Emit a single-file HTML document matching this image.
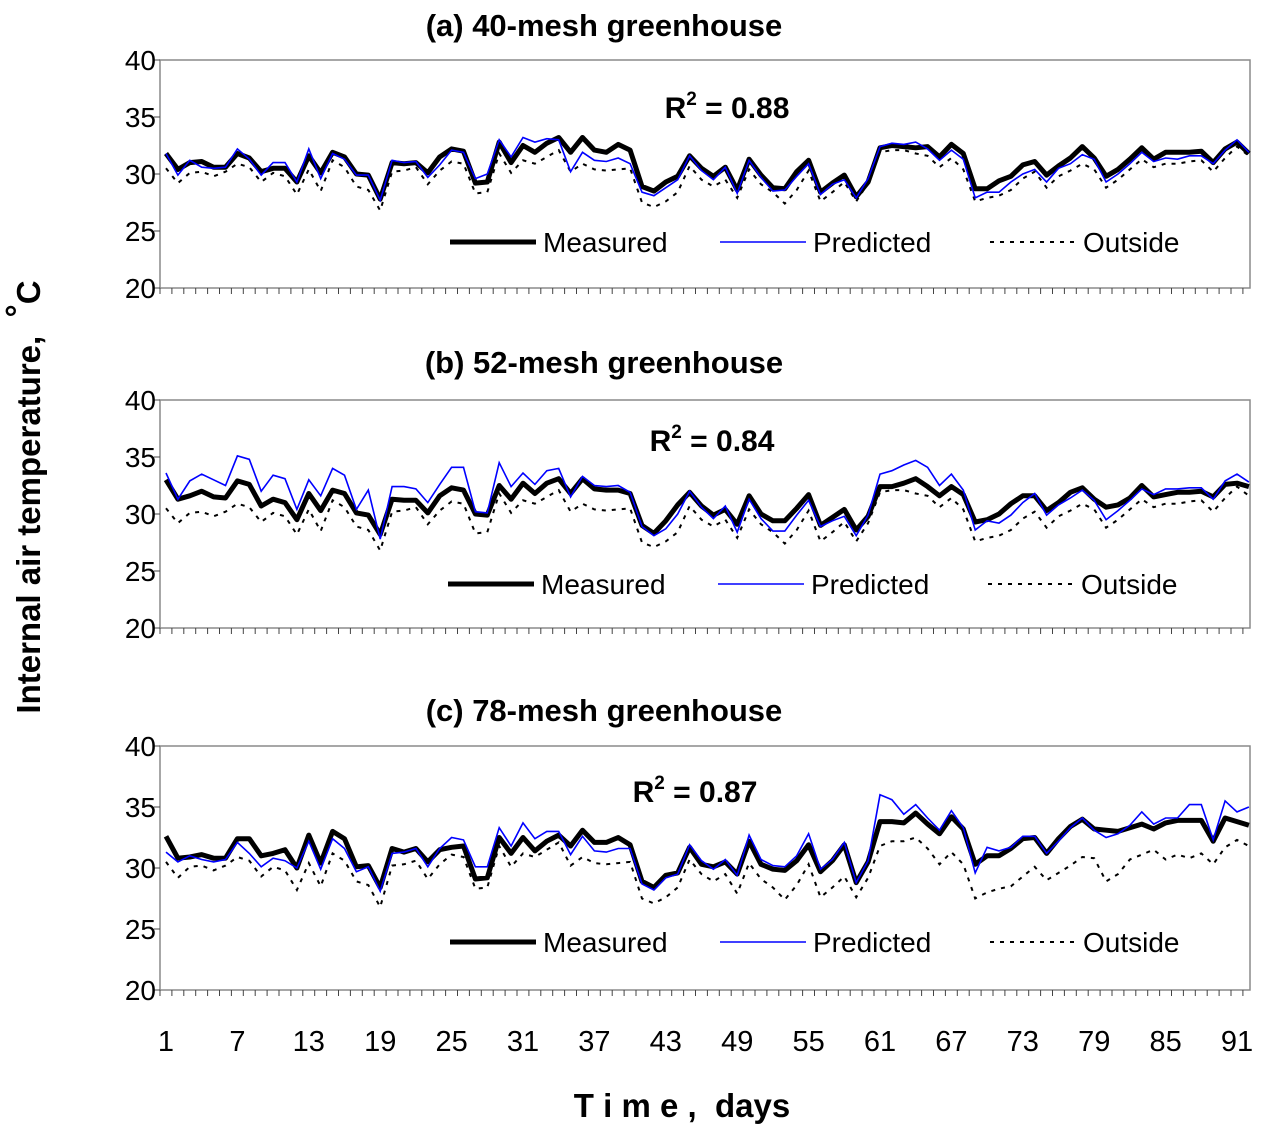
<!DOCTYPE html>
<html><head><meta charset="utf-8"><style>
body{margin:0;background:#fff;}
svg text{font-family:"Liberation Sans",Arial,sans-serif;}
</style></head><body>
<svg id="chart" width="1263" height="1137" viewBox="0 0 1263 1137" xmlns="http://www.w3.org/2000/svg"></svg>
<script>
const days = Array.from({length:92},(_,i)=>i+1);
const xTickLabels = [1,7,13,19,25,31,37,43,49,55,61,67,73,79,85,91];
const yTickLabels = [20,25,30,35,40];
const titles = ["(a) 40-mesh greenhouse","(b) 52-mesh greenhouse","(c) 78-mesh greenhouse"];
const r2Labels = ["0.88","0.84","0.87"];
const measuredA = [31.8,30.4,31,31.1,30.6,30.6,31.8,31.4,30.2,30.5,30.5,29.3,31.6,30.1,31.9,31.5,30,29.9,27.8,31,30.9,31,30.1,31.5,32.2,32,29.2,29.3,32.8,31,32.5,31.9,32.7,33.2,31.9,33.2,32.1,31.9,32.6,32.1,28.9,28.5,29.3,29.8,31.6,30.5,29.8,30.6,28.6,31.3,29.9,28.8,28.7,30.2,31.2,28.4,29.2,29.9,28,29.3,32.3,32.5,32.4,32.3,32.4,31.5,32.6,31.8,28.7,28.7,29.4,29.8,30.8,31.1,29.9,30.7,31.4,32.4,31.4,29.8,30.4,31.3,32.3,31.3,31.9,31.9,31.9,32,31,32.2,32.8,31.8];
const predictedA = [31.8,29.9,31.2,30.6,30.5,30.6,32.2,31.3,29.9,31,31,29.3,32.2,29.6,31.8,31.3,29.9,29.9,27.7,31.2,31,31.1,29.7,30.8,32.1,31.9,29.6,30,33,31.5,33.2,32.8,33.1,33,30.2,31.9,31.2,31.1,31.4,30.9,28.4,28.1,28.8,29.5,31.6,30.3,29.5,30.6,28.3,31.2,29.7,28.5,28.6,29.8,30.9,28.2,29.1,29.5,27.9,29.6,32.4,32.7,32.6,32.8,32.2,31.2,32.1,31.3,27.9,28.4,28.4,29.3,30,30.4,29.3,30.5,30.9,31.7,31.3,29.3,30,30.9,31.9,31.1,31.4,31.3,31.6,31.6,30.9,32.1,33,31.9];
const outsideA = [30.5,29.2,30.1,30.2,29.8,30.2,30.9,30.6,29.3,30.1,29.8,28.2,30.4,28.5,31.2,30.6,28.9,28.6,26.8,30.2,30.3,30.6,29.1,30.3,31.1,30.9,28.3,28.4,31.8,30.1,31.2,30.9,31.5,32.1,30.2,30.9,30.4,30.3,30.4,30.5,27.5,27.1,27.6,28.4,30.7,29.5,28.9,29.5,27.9,30.4,29.1,28.4,27.4,28.6,30.3,27.6,28.4,29.3,27.6,29.2,31.9,32.1,32.1,31.8,31.6,30.6,31.4,30.4,27.6,27.9,28.1,28.6,29.6,30.2,28.8,29.8,30.3,30.9,30.4,28.8,29.5,30.4,31.3,30.6,30.9,30.9,31.1,31.2,30.2,31.4,32.4,31.6];
const measuredB = [33,31.3,31.6,32,31.5,31.4,32.9,32.6,30.7,31.3,31,29.5,31.8,30.3,32.1,31.8,30.1,29.9,28.2,31.3,31.2,31.2,30.1,31.6,32.3,32.1,30,29.9,32.5,31.3,32.7,31.8,32.7,33.1,31.8,33.1,32.2,32.1,32.1,31.8,29,28.3,29.4,30.8,31.9,30.7,29.9,30.4,29.1,31.6,30,29.4,29.4,30.5,31.7,29,29.7,30.4,28.6,29.8,32.4,32.4,32.7,33.1,32.4,31.6,32.4,31.7,29.3,29.5,30,30.9,31.6,31.6,30.3,31,31.9,32.3,31.3,30.6,30.8,31.4,32.5,31.5,31.7,31.9,31.9,32,31.5,32.6,32.7,32.4];
const predictedB = [33.6,31.3,32.9,33.5,33,32.5,35.1,34.8,32,33.4,33.1,30.4,33,31.6,34,33.4,30.4,32.1,27.8,32.4,32.4,32.2,31,32.6,34.1,34.1,30.2,30.1,34.5,32.4,33.6,32.6,33.8,34,31.5,33.3,32.5,32.4,32.5,31.9,28.9,28.1,28.7,30,32,30.6,29.6,30.7,28.4,31.3,29.6,28.5,28.5,29.9,31.2,28.9,29.4,29.8,28.1,29.9,33.5,33.8,34.3,34.7,34.1,32.5,33.5,32.1,28.6,29.4,29.2,29.9,31,31.8,29.9,30.8,31.4,32.1,31.2,29.5,30.3,31.2,32.2,31.7,32.2,32.2,32.3,32.3,31.3,32.9,33.5,32.8];
const outsideB = [30.5,29.2,30.1,30.2,29.8,30.2,30.9,30.6,29.3,30.1,29.8,28.2,30.4,28.5,31.2,30.6,28.9,28.6,26.8,30.2,30.3,30.6,29.1,30.3,31.1,30.9,28.3,28.4,31.8,30.1,31.2,30.9,31.5,32.1,30.2,30.9,30.4,30.3,30.4,30.5,27.5,27.1,27.6,28.4,30.7,29.5,28.9,29.5,27.9,30.4,29.1,28.4,27.4,28.6,30.3,27.6,28.4,29.3,27.6,29.2,31.9,32.1,32.1,31.8,31.6,30.6,31.4,30.4,27.6,27.9,28.1,28.6,29.6,30.2,28.8,29.8,30.3,30.9,30.4,28.8,29.5,30.4,31.3,30.6,30.9,30.9,31.1,31.2,30.2,31.4,32.4,31.6];
const measuredC = [32.6,30.8,30.9,31.1,30.8,30.8,32.4,32.4,31,31.2,31.5,30,32.7,30.4,33,32.4,30.1,30.2,28.4,31.6,31.3,31.6,30.5,31.5,31.7,31.8,29.1,29.2,32.5,31.2,32.5,31.4,32.2,32.7,31.8,33.1,32.1,32.1,32.5,31.9,28.9,28.4,29.4,29.6,31.7,30.3,30.1,30.5,29.5,32.2,30.3,29.9,29.8,30.6,31.9,29.7,30.6,31.9,28.8,30.5,33.8,33.8,33.7,34.5,33.6,32.8,34.2,33.2,30.3,31,31,31.6,32.4,32.5,31.2,32.4,33.4,34,33.2,33.1,33,33.3,33.6,33.2,33.7,33.9,33.9,33.9,32.2,34.1,33.8,33.5];
const predictedC = [31.3,30.5,31,30.7,30.5,30.7,32.1,31.2,30.1,30.8,30.6,30,32.2,29.9,32.4,31.6,29.7,30.1,28.1,31.2,31.3,31.6,30.1,31.6,32.5,32.3,30.1,30.1,33.3,31.8,33.7,32.4,33,33,31.1,32.6,31.4,31.3,31.6,31.6,28.7,28.2,29.2,29.5,31.9,30.6,29.9,30.7,29.4,32.7,30.7,30.2,30.1,31,32.8,29.9,30.7,32.1,28.8,30.6,36,35.6,34.4,35.2,34.1,33.1,34.7,33.3,29.6,31.7,31.4,31.7,32.6,32.6,31.2,32.2,33.3,34.1,33.1,32.5,32.8,33.5,34.6,33.6,34.1,34.1,35.2,35.2,32.3,35.5,34.6,35];
const outsideC = [30.5,29.2,30.1,30.2,29.8,30.2,30.9,30.6,29.3,30.1,29.8,28.2,30.4,28.5,31.2,30.6,28.9,28.6,26.8,30.2,30.3,30.6,29.1,30.3,31.1,30.9,28.3,28.4,31.8,30.1,31.2,30.9,31.5,32.1,30.2,30.9,30.4,30.3,30.4,30.5,27.5,27.1,27.6,28.4,30.7,29.5,28.9,29.5,27.9,30.4,29.1,28.4,27.4,28.6,30.3,27.6,28.4,29.3,27.6,29.2,31.8,32.2,32.2,32.5,31.6,30.3,31.3,30.3,27.5,28,28.3,28.5,29.3,30.1,29,29.6,30.2,30.9,30.8,28.9,29.5,30.7,31.1,31.5,30.7,31.1,30.8,31.2,30.3,31.7,32.3,31.8];

const NS="http://www.w3.org/2000/svg";
const svg=document.getElementById('chart');
function mk(tag,attrs,parent){const e=document.createElementNS(NS,tag);for(const k in attrs)e.setAttribute(k,attrs[k]);(parent||svg).appendChild(e);return e;}
const X0=160,X1=1250;
function xs(d){return 166+(d-1)*(1237-166)/90;}
const panels=[
 {top:60,bot:288,m:measuredA,p:predictedA,o:outsideA,ty:25,r2x:727,r2y:107,ly:242,lx:0},
 {top:400,bot:628,m:measuredB,p:predictedB,o:outsideB,ty:362,r2x:712,r2y:440,ly:584,lx:-2},
 {top:746,bot:990,m:measuredC,p:predictedC,o:outsideC,ty:710,r2x:695,r2y:791,ly:942,lx:0}
];
panels.forEach((P,i)=>{
 const g=mk('g',{});
 
 
 const ys=v=>P.bot-(v-20)/20*(P.bot-P.top);
 const t=mk('text',{x:604,y:P.ty+11,'text-anchor':'middle','font-size':31,'font-weight':'bold'},g);
 t.textContent=titles[i];
 
 
 const box=mk('rect',{x:X0,y:P.top,width:X1-X0,height:P.bot-P.top,fill:'none',stroke:'#8a8a8a','stroke-width':1.5},g);
 
 
 yTickLabels.forEach(v=>{
  mk('line',{x1:X0-6,x2:X0,y1:ys(v),y2:ys(v),stroke:'#444','stroke-width':1},g);
  const tl=mk('text',{x:X0-4,y:ys(v)+10,'text-anchor':'end','font-size':28},g);
  tl.textContent=v;
  
  
 });
 days.forEach(d=>{mk('line',{x1:xs(d)-6,x2:xs(d)-6,y1:P.bot,y2:P.bot+6,stroke:'#444','stroke-width':1},g);});
 const pts=a=>a.map((v,j)=>xs(days[j]).toFixed(1)+','+ys(v).toFixed(1)).join(' ');
 const lo=mk('polyline',{points:pts(P.o),fill:'none',stroke:'#000','stroke-width':2,'stroke-dasharray':'4,6'},g);
 
 
 const lm=mk('polyline',{points:pts(P.m),fill:'none',stroke:'#000','stroke-width':5,'stroke-linejoin':'round'},g);
 
 
 const lp=mk('polyline',{points:pts(P.p),fill:'none',stroke:'#0000ff','stroke-width':1.6},g);
 
 
 const r=mk('text',{x:P.r2x,y:P.r2y+11,'text-anchor':'middle','font-size':30,'font-weight':'bold'},g);
 r.innerHTML='R<tspan dy="-13" font-size="19">2</tspan><tspan dy="13"> = '+r2Labels[i]+'</tspan>';
 
 
 const leg=[['Measured',450,'#000',5,''],['Predicted',720,'#0000ff',1.6,''],['Outside',990,'#000',2,'4,6']];
 leg.forEach(L=>{
  const lg=mk('g',{},g);
  
  
  mk('line',{x1:L[1]+P.lx,x2:L[1]+P.lx+86,y1:P.ly,y2:P.ly,stroke:L[2],'stroke-width':L[3],'stroke-dasharray':L[4]},lg);
  const tt=mk('text',{x:L[1]+P.lx+(L[0]=='Outside'?93:93),y:P.ly+10,'font-size':28},lg);
  tt.textContent=L[0];
 });
});
xTickLabels.forEach(v=>{
 const t=mk('text',{x:xs(v),y:1051,'text-anchor':'middle','font-size':29});
 t.textContent=v;
 
 
});
const xt=mk('text',{x:682,y:1117,'text-anchor':'middle','font-size':33,'font-weight':'bold'});
xt.setAttribute('style','white-space:pre');
xt.textContent='T i m e ,  days';


const yt=mk('text',{x:0,y:0,'text-anchor':'middle','font-size':33,'font-weight':'bold',transform:'translate(40,497) rotate(-90)'});
yt.setAttribute('style','white-space:pre');
yt.innerHTML='Internal air temperature,  <tspan dy="-11">°</tspan><tspan dy="11">C</tspan>';


</script>
</body></html>
